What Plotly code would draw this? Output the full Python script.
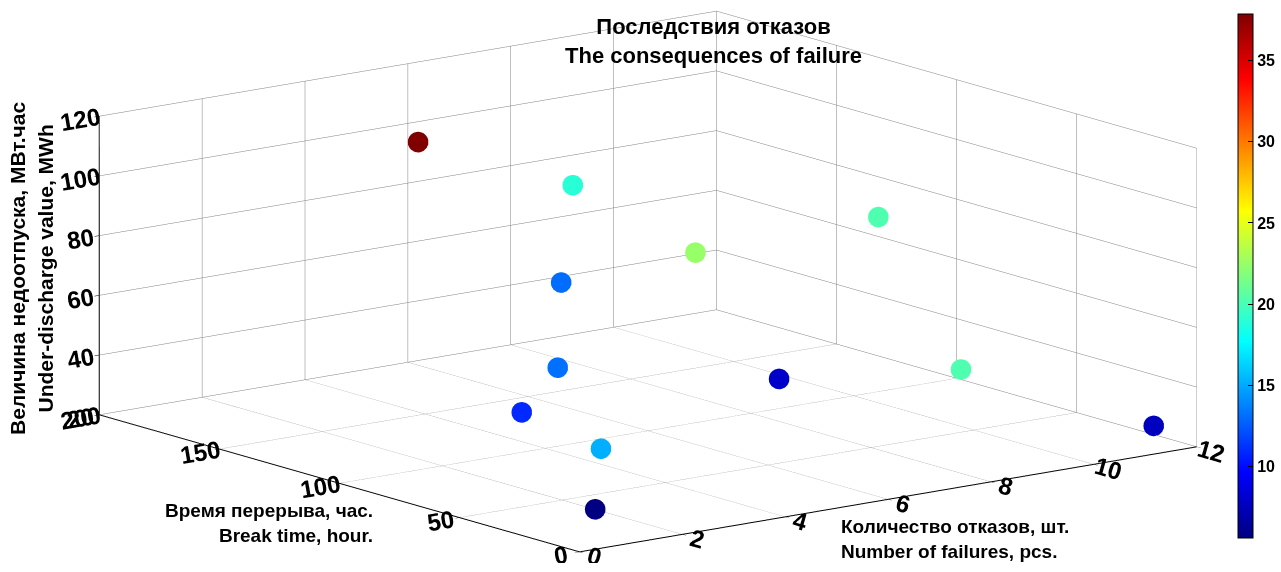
import plotly.graph_objects as go

# Data
failures = [4, 5, 8, 4, 3, 2, 6, 9, 2, 2, 12, 1]
break_time = [153, 110, 47, 37.5, 72, 52, 45.5, 34, 67, 34, 18, 15]
under_discharge = [110.5, 103, 98, 100, 85, 64, 50, 47, 45.6, 41, 23, 28]
colour_value = [37.9, 19.0, 20.2, 22.5, 13.1, 13.2, 8.0, 20.2, 10.9, 15.2, 7.6, 5.6]

x_ticks = [0, 2, 4, 6, 8, 10, 12]
y_ticks = [0, 50, 100, 150, 200]
z_ticks = [20, 40, 60, 80, 100, 120]
cbar_ticks = [10, 15, 20, 25, 30, 35]

jet = [[0.0, "rgb(0,0,128)"], [0.125, "rgb(0,0,255)"], [0.375, "rgb(0,255,255)"],
       [0.625, "rgb(255,255,0)"], [0.875, "rgb(255,0,0)"], [1.0, "rgb(128,0,0)"]]

FONT = "Liberation Sans"

fig = go.Figure(go.Scatter3d(
    x=failures, y=break_time, z=under_discharge, mode="markers",
    marker=dict(size=12, color=colour_value, colorscale=jet, opacity=1,
                cmin=min(colour_value), cmax=max(colour_value),
                line=dict(width=0),
                colorbar=dict(x=0.9696, xanchor="left", y=0.518, yanchor="middle",
                              len=0.916, lenmode="fraction", thickness=15,
                              xpad=0, ypad=0,
                              outlinecolor="black", outlinewidth=1,
                              tickvals=cbar_ticks, ticks="inside", ticklen=5,
                              tickcolor="black",
                              tickfont=dict(family=FONT, size=16, color="black", weight="bold"))),
    hoverinfo="skip"))

k = 8.0
eye = dict(x=-0.5961 * k, y=-0.7720 * k, z=0.2204 * k)
s = 2.77

axis_common = dict(showbackground=False, gridcolor="#808080", gridwidth=1,
                   showline=True, linecolor="black", linewidth=2,
                   zeroline=False, showspikes=False, ticks="outside", ticklen=6,
                   tickcolor="black", title=dict(text=""),
                   tickfont=dict(family=FONT, size=17, color="black", weight="bold"))

fig.update_layout(
    width=1281, height=572, margin=dict(l=0, r=0, t=0, b=0),
    paper_bgcolor="white", showlegend=False,
    font=dict(family=FONT, color="black"),
    scene=dict(
        domain=dict(x=[0.0152, 1.0], y=[0.015, 1.0]),
        xaxis=dict(range=[0, 12], tickvals=x_ticks, **axis_common),
        yaxis=dict(range=[0, 200], tickvals=y_ticks, **axis_common),
        zaxis=dict(range=[20, 120], tickvals=z_ticks, **axis_common),
        aspectmode="manual", aspectratio=dict(x=1 * s, y=1.0077 * s, z=0.3926 * s),
        camera=dict(eye=eye, up=dict(x=0, y=0, z=1), center=dict(x=0, y=0, z=0),
                    projection=dict(type="orthographic")),
    ),
    annotations=[
        dict(text="<b>Последствия отказов<br>The consequences of failure</b>",
             x=0.559, y=0.928, xref="paper", yref="paper", showarrow=False,
             xanchor="center", yanchor="middle", font=dict(size=22, family=FONT)),
        dict(text="<b>Величина недоотпуска, МВт.час<br>Under-discharge value, MWh</b>",
             x=0.0248, y=0.531, xref="paper", yref="paper", showarrow=False,
             textangle=-90, xanchor="center", yanchor="middle", font=dict(size=21, family=FONT)),
        dict(text="<b>Время перерыва, час.<br>Break time, hour.</b>", align="right",
             x=0.294, y=0.085, xref="paper", yref="paper", showarrow=False,
             xanchor="right", yanchor="middle", font=dict(size=19, family=FONT)),
        dict(text="<b>Количество отказов, шт.<br>Number of failures, pcs.</b>", align="left",
             x=0.657, y=0.057, xref="paper", yref="paper", showarrow=False,
             xanchor="left", yanchor="middle", font=dict(size=19, family=FONT)),
    ],
)

fig.write_html("out.html", config={"displayModeBar": False},
               post_script="document.body.style.margin='0px';document.body.style.overflow='hidden';")
